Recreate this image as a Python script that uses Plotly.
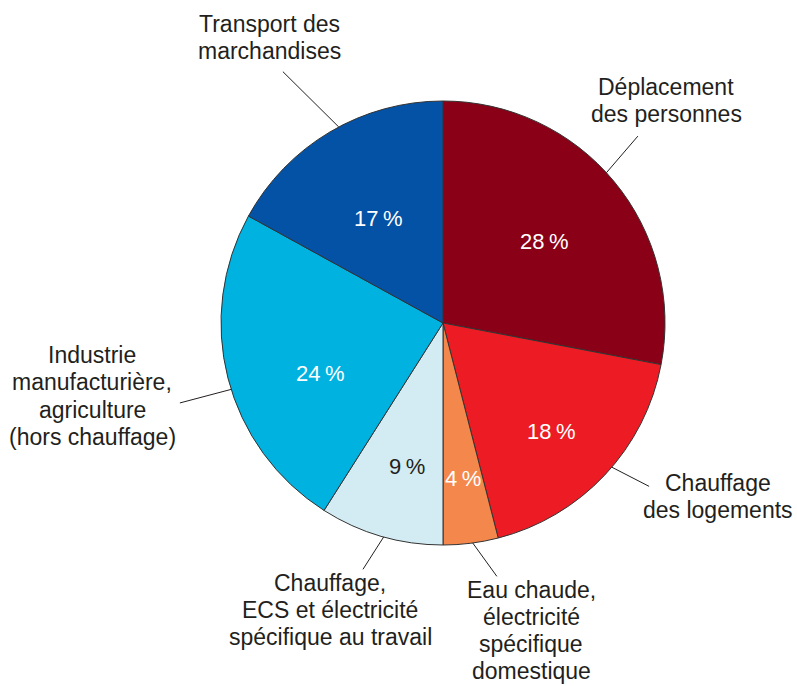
import math
import plotly.graph_objects as go

# Slices, clockwise from 12 o'clock
labels = [
    "Déplacement<br>des personnes",
    "Chauffage<br>des logements",
    "Eau chaude,<br>électricité<br>spécifique<br>domestique",
    "Chauffage,<br>ECS et électricité<br>spécifique au travail",
    "Industrie<br>manufacturière,<br>agriculture<br>(hors chauffage)",
    "Transport des<br>marchandises",
]
values = [28, 18, 4, 9, 24, 17]
colors = ["#8a0016", "#ed1c24", "#f4874b", "#d3ecf4", "#00b2e0", "#0452a5"]
text_colors = ["white", "white", "white", "#231f20", "white", "white"]

W, H = 797, 686
CX, CY, R = 443, 323, 222  # pie centre / radius in pixels
FONT = "Liberation Sans, Arial, sans-serif"

# outside label centres (pixels)
label_pos = [(666, 100), (718, 496), (531, 630), (330, 610), (92, 396), (269, 38)]
# leader lines: outer radius, angular nudge of start / end (deg) from slice middle
line_out = [270, 263, 259, 259, 275, 298]
line_start_nudge = [-3, -2.7, -0.5, -0.7, -3, 2.6]
line_end_nudge = [-4.2, -4.8, -4.8, 1.8, -2.5, -1.9]
# percentage text: distance from centre and small angular nudge (deg)
pct_r = [130, 153, 157, 148, 133, 123]
pct_nudge = [0.5, 2, 0, -2, -8, -1.5]
LINE_H = 27


def px(x):
    return x / W


def py(y):
    return 1 - y / H


def polar(r, ang):
    return px(CX + r * math.sin(ang)), py(CY - r * math.cos(ang))


fig = go.Figure(go.Pie(
    values=values,
    labels=[l.replace("<br>", " ") for l in labels],
    sort=False,
    direction="clockwise",
    rotation=0,
    marker=dict(colors=colors, line=dict(color="#333333", width=1)),
    textinfo="none",
    hoverinfo="label+percent",
    domain=dict(x=[px(CX - R), px(CX + R)], y=[py(CY + R), py(CY - R)]),
    showlegend=False,
))

total = sum(values)
cum = 0
for i, (lab, v) in enumerate(zip(labels, values)):
    mid = (cum + v / 2) / total * 2 * math.pi
    cum += v

    # leader line from the slice edge out to its label
    x0, y0 = polar(R, mid + math.radians(line_start_nudge[i]))
    x1, y1 = polar(line_out[i], mid + math.radians(line_end_nudge[i]))
    fig.add_shape(
        type="line", xref="paper", yref="paper",
        x0=x0, y0=y0, x1=x1, y1=y1,
        line=dict(color="#231f20", width=1),
    )

    # outside label, one annotation per line for tight leading
    lx, ly = label_pos[i]
    parts = lab.split("<br>")
    for j, part in enumerate(parts):
        fig.add_annotation(
            x=px(lx), y=py(ly + (j - (len(parts) - 1) / 2) * LINE_H),
            xref="paper", yref="paper",
            text=part, showarrow=False,
            xanchor="center", yanchor="middle",
            font=dict(family=FONT, size=23, color="#231f20"),
        )

    # percentage inside the slice
    tx, ty = polar(pct_r[i], mid + math.radians(pct_nudge[i]))
    fig.add_annotation(
        x=tx, y=ty, xref="paper", yref="paper",
        text=f"{v}\u2009%", showarrow=False,
        xanchor="center", yanchor="middle",
        font=dict(family=FONT, size=22, color=text_colors[i]),
    )

fig.update_layout(
    width=W, height=H,
    margin=dict(l=0, r=0, t=0, b=0),
    paper_bgcolor="white",
    plot_bgcolor="white",
)

fig.write_html(
    "out.html",
    config={"displayModeBar": False},
    post_script="document.body.style.margin='0';document.body.style.overflow='hidden';",
)
